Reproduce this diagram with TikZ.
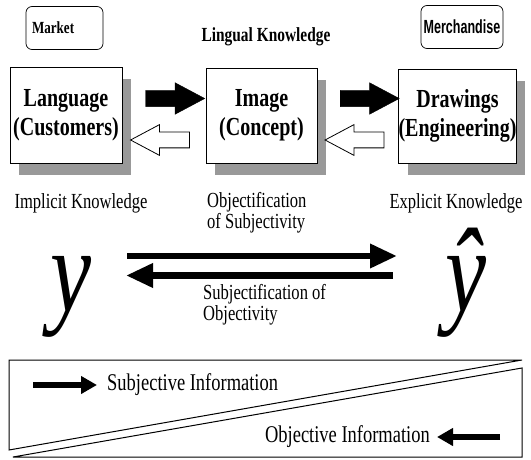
\documentclass[tikz,border=0pt]{standalone}
\usepackage{fontspec}
\setmainfont{Liberation Serif}[FakeStretch=0.77]
\newfontfamily\tagsans{Liberation Sans}[FakeStretch=0.66]
\usetikzlibrary{shapes.arrows,shadows,arrows.meta}

\begin{document}
\begin{tikzpicture}[x=1pt,y=-1pt,
  stagebox/.style={draw, line width=0.8pt, fill=white, minimum width=111pt, minimum height=95pt, align=center, inner sep=0pt, font={\bfseries\fontsize{26}{29}\selectfont}, copy shadow={shadow xshift=9pt, shadow yshift=-12pt, fill=black!40, draw=none}},
  tagbox/.style={draw, rounded corners=6pt, line width=0.7pt, minimum height=43pt},
  fwdarrow/.style={single arrow, fill=black, draw=black, inner xsep=0pt, inner ysep=8pt, single arrow head extend=7.5pt, single arrow tip angle=56, minimum height=59pt},
  backarrow/.style={fwdarrow, fill=white, line width=0.8pt, inner ysep=7.5pt, shape border rotate=180},
  plainlbl/.style={font=\fontsize{21.5}{21}\selectfont, inner sep=0pt},
  infolbl/.style={font=\fontsize{24}{24}\selectfont, inner sep=0pt},
  bigvar/.style={font=\itshape\fontsize{120}{120}\selectfont, inner sep=0pt, anchor=base},
  longarrow/.style={line width=6.5pt, -{Triangle[length=27pt,width=23pt]}},
  infoarrow/.style={line width=6pt, -{Triangle[length=16pt,width=17pt]}}]
\useasboundingbox (0,0) rectangle (531,460);
\node[tagbox, text width=65pt, inner xsep=6pt, align=left, font={\bfseries\fontsize{17}{17}\selectfont}] (market) at (64.5,28) {Market};
\node[tagbox, minimum width=82pt, inner xsep=0pt, font={\tagsans\bfseries\fontsize{19}{19}\selectfont}] (merch) at (462,27) {Merchandise};
\node[font={\bfseries\fontsize{20}{20}\selectfont}] (lingual) at (266,37) {Lingual Knowledge};
\node[stagebox, minimum width=112pt, minimum height=96pt] (lang) at (66,115) {Language\\(Customers)};
\node[stagebox] (img) at (261.5,115.5) {Image\\(Concept)};
\node[stagebox, minimum width=109pt, minimum height=94pt] (drawings) at (457.5,116) {Drawings\\(Engineering)};
\node[fwdarrow] (langimg) at (167.5,98.5) {};
\node[fwdarrow] (imgdrw) at (362,98.5) {};
\node[backarrow] (imglang) at (167.5,140) {};
\node[backarrow] (drwimg) at (362,140) {};
\node[plainlbl] (implicit) at (81,203) {Implicit Knowledge};
\node[plainlbl, anchor=west, align=left] (objsubj) at (207,212.5) {Objectification\\of Subjectivity};
\node[plainlbl] (explicit) at (456,203) {Explicit Knowledge};
\node[plainlbl, anchor=west, align=left] (subjobj) at (203,305) {Subjectification of\\Objectivity};
\node[bigvar] (ylat) at (71,311) {y};
\node[bigvar] (yhat) at (466,311) {\symbol{"0177}};
\coordinate (objtail) at (127,256);
\coordinate (objtip) at (397,256);
\coordinate (subjtail) at (393,275.5);
\coordinate (subjtip) at (126,275.5);
\draw[longarrow] (objtail) -- (objtip);
\draw[longarrow] (subjtail) -- (subjtip);
\draw[line width=1pt] (9,360) -- (522,360) -- (9,450) -- cycle;
\draw[line width=1pt] (13,457) -- (522,368) -- (522,457) -- cycle;
\node[infolbl, anchor=west] (subjinfo) at (107,385) {Subjective Information};
\node[infolbl, anchor=east] (objinfo) at (430,437) {Objective Information};
\coordinate (subjstart) at (33,385);
\coordinate (objstart) at (500,437);
\draw[infoarrow] (subjstart) -- ([xshift=-10pt]subjinfo.west);
\draw[infoarrow] (objstart) -- ([xshift=7pt]objinfo.east);
\end{tikzpicture}
\end{document}
